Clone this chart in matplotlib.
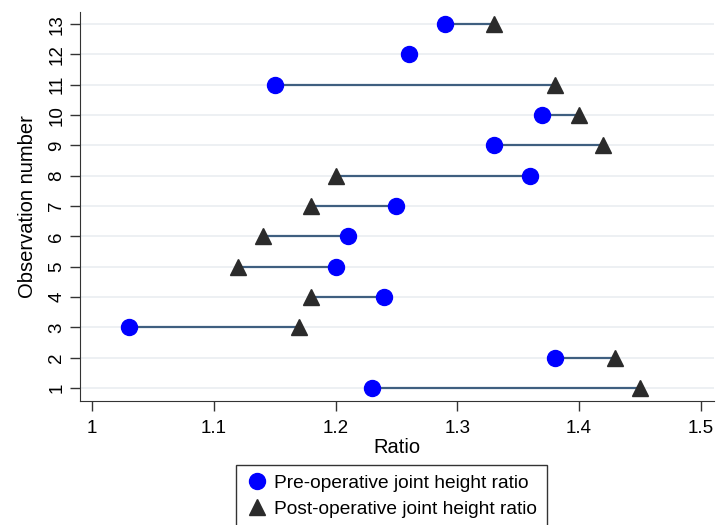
import matplotlib
matplotlib.use("Agg")
import matplotlib.pyplot as plt
import numpy as np

plt.rcParams["font.family"] = ["Liberation Sans", "DejaVu Sans"]

# observation number, pre- and post-operative joint height ratio
obs = np.arange(1, 14)
pre_op = [1.23, 1.38, 1.03, 1.24, 1.20, 1.21, 1.25, 1.36, 1.33, 1.37, 1.15, 1.26, 1.29]
post_op = [1.45, 1.43, 1.17, 1.18, 1.12, 1.14, 1.18, 1.20, 1.42, 1.40, 1.38, np.nan, 1.33]
x_ticks = [1, 1.1, 1.2, 1.3, 1.4, 1.5]
x_tick_labels = ["1", "1.1", "1.2", "1.3", "1.4", "1.5"]

fig = plt.figure(figsize=(7.17, 5.25), dpi=100)
ax = fig.add_axes([80 / 717, 1 - 401 / 525, 634 / 717, 389 / 525])

for y in obs:
    ax.axhline(y, color="#eaeef1", lw=1.2, zorder=0)

ax.hlines(obs, pre_op, post_op, color="#3f5f80", lw=1.6, zorder=1)
h_post, = ax.plot(post_op, obs, "^", color="#2b2b2b", ms=11, ls="none", zorder=2,
                  label="Post-operative joint height ratio")
h_pre, = ax.plot(pre_op, obs, "o", color="#0000ff", ms=11.5, ls="none", zorder=3,
                 label="Pre-operative joint height ratio")

ax.set_xlim(0.990, 1.511)
ax.set_ylim(0.571, 13.4)
ax.set_xticks(x_ticks)
ax.set_xticklabels(x_tick_labels)
ax.set_yticks(obs)
ax.set_yticklabels([str(v) for v in obs], rotation=90, va="center")
ax.tick_params(axis="both", labelsize=13.5, length=7.5, width=1, color="#333333")
ax.tick_params(axis="y", pad=3)
ax.tick_params(axis="x", pad=6)
for side in ["top", "right"]:
    ax.spines[side].set_visible(False)
for side in ["left", "bottom"]:
    ax.spines[side].set_color("#333333")

ax.set_xlabel("Ratio", fontsize=14.5, labelpad=1)
ax.set_ylabel("Observation number", fontsize=14.5, labelpad=8)

leg = fig.legend(handles=[h_pre, h_post], loc="upper left",
                 bbox_to_anchor=(236 / 717, 1 - 465 / 525), fontsize=13.8,
                 frameon=True, fancybox=False, handletextpad=0.3,
                 borderpad=0.5, labelspacing=0.45, handlelength=1.2,
                 borderaxespad=0)
leg.get_frame().set_edgecolor("black")
leg.get_frame().set_linewidth(1)

fig.savefig("out.png", dpi=100)
